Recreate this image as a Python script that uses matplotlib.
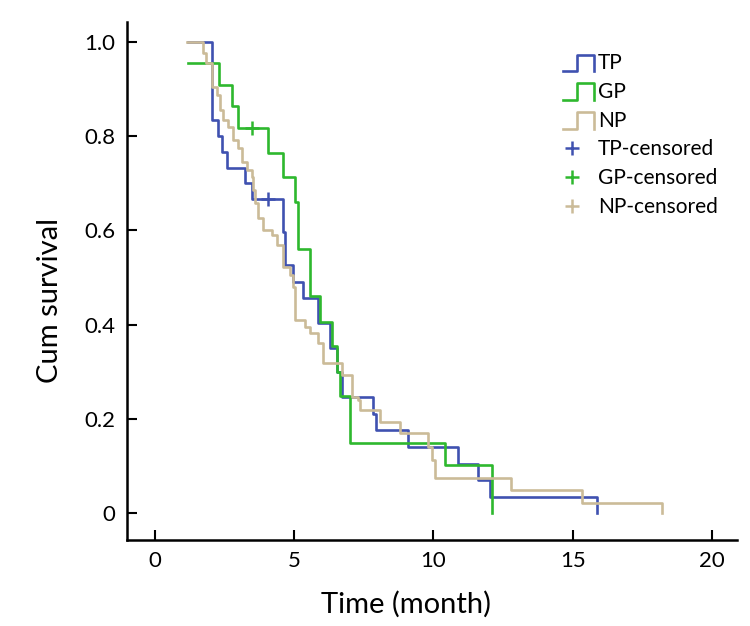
import matplotlib
matplotlib.use("Agg")
import matplotlib.pyplot as plt
from matplotlib.lines import Line2D
from matplotlib.legend_handler import HandlerLine2D

plt.rcParams['font.family'] = ['Lato', 'DejaVu Sans']

# Kaplan-Meier step data (time in months, survival after each step)
tp_t = [1.2, 2.05, 2.26, 2.4, 2.59, 3.23, 3.5, 4.6, 4.67, 4.96, 5.31, 5.85,
        6.28, 6.54, 6.71, 7.83, 7.94, 9.08, 10.88, 11.6, 12.03, 15.87]
tp_s = [1.0, 0.833, 0.80, 0.767, 0.733, 0.70, 0.667, 0.596, 0.526, 0.491,
        0.456, 0.404, 0.351, 0.30, 0.246, 0.211, 0.176, 0.140, 0.105, 0.070,
        0.035, 0.0]
tp_cens_t = [4.06]
tp_cens_s = [0.667]

gp_t = [1.2, 2.3, 2.76, 3.0, 4.05, 4.6, 5.05, 5.13, 5.57, 5.93, 6.35, 6.55,
        6.65, 7.0, 10.4, 12.1]
gp_s = [0.955, 0.909, 0.864, 0.818, 0.765, 0.713, 0.66, 0.56, 0.46, 0.405,
        0.354, 0.30, 0.248, 0.149, 0.102, 0.0]
gp_cens_t = [3.5]
gp_cens_s = [0.818]

np_t = [1.15, 1.72, 1.83, 2.05, 2.23, 2.33, 2.44, 2.62, 2.8, 2.98, 3.12, 3.3,
        3.48, 3.52, 3.59, 3.7, 3.88, 4.2, 4.38, 4.6, 4.85, 4.96, 5.03, 5.39,
        5.57, 5.85, 6.03, 6.71, 7.07, 7.29, 7.36, 8.08, 8.8, 9.8, 9.95, 10.05,
        12.8, 15.33, 18.2]
np_s = [1.0, 0.977, 0.955, 0.905, 0.887, 0.856, 0.834, 0.82, 0.792, 0.775,
        0.745, 0.728, 0.713, 0.686, 0.658, 0.626, 0.60, 0.59, 0.569, 0.522,
        0.505, 0.48, 0.41, 0.395, 0.382, 0.361, 0.318, 0.293, 0.246, 0.24,
        0.219, 0.193, 0.17, 0.14, 0.113, 0.074, 0.049, 0.021, 0.0]
np_cens_t = []
np_cens_s = []

c_tp = '#3f51b0'
c_gp = '#2eb82e'
c_np = '#cbbb98'


class StepHandler(HandlerLine2D):
    # legend key drawn as a small step: low, up, across, down
    def create_artists(self, legend, orig_handle, xdescent, ydescent,
                       width, height, fontsize, trans):
        x0 = -xdescent
        y0 = -ydescent - height * 0.15
        h = height * 1.15
        xs = [x0, x0 + width * 0.45, x0 + width * 0.45, x0 + width, x0 + width]
        ys = [y0, y0, y0 + h, y0 + h, y0]
        ln = Line2D(xs, ys, color=orig_handle.get_color(),
                    lw=orig_handle.get_linewidth())
        ln.set_transform(trans)
        return [ln]


class CrossHandler(HandlerLine2D):
    def create_artists(self, legend, orig_handle, xdescent, ydescent,
                       width, height, fontsize, trans):
        x = -xdescent + width * 0.3
        y = -ydescent + height * 0.5
        mk = Line2D([x], [y], marker='+', ls='none',
                    color=orig_handle.get_color(),
                    ms=orig_handle.get_markersize(),
                    mew=orig_handle.get_markeredgewidth())
        mk.set_transform(trans)
        return [mk]


fig = plt.figure(figsize=(7.5, 6.26), dpi=100)
ax = fig.add_axes([0.169, 0.137, 0.814, 0.828])

l1, = ax.step(tp_t, tp_s, where='post', color=c_tp, lw=1.9)
l2, = ax.step(gp_t, gp_s, where='post', color=c_gp, lw=1.9)
l3, = ax.step(np_t, np_s, where='post', color=c_np, lw=1.9)
m1, = ax.plot(tp_cens_t, tp_cens_s, '+', color=c_tp, ms=10, mew=1.8, ls='none')
m2, = ax.plot(gp_cens_t, gp_cens_s, '+', color=c_gp, ms=10, mew=1.8, ls='none')
m3, = ax.plot(np_cens_t, np_cens_s, '+', color=c_np, ms=10, mew=1.8, ls='none')

ax.set_xlim(-1.0, 20.9)
ax.set_ylim(-0.057, 1.042)
ax.set_xticks([0, 5, 10, 15, 20])
ax.set_yticks([0, 0.2, 0.4, 0.6, 0.8, 1.0])
ax.set_yticklabels(['0', '0.2', '0.4', '0.6', '0.8', '1.0'])
ax.tick_params(direction='in', length=7, width=1.5, labelsize=16, pad=8)
for s in ['top', 'right']:
    ax.spines[s].set_visible(False)
for s in ['left', 'bottom']:
    ax.spines[s].set_linewidth(1.8)

ax.set_xlabel('Time (month)', fontsize=21)
ax.set_ylabel('Cum survival', fontsize=21)
ax.xaxis.set_label_coords(0.457, -0.098)
ax.yaxis.set_label_coords(-0.105, 0.463)

hm = {l1: StepHandler(), l2: StepHandler(), l3: StepHandler(),
      m1: CrossHandler(), m2: CrossHandler(), m3: CrossHandler()}
leg = fig.legend([l1, l2, l3, m1, m2, m3],
                 ['TP', 'GP', 'NP', 'TP-censored', 'GP-censored', 'NP-censored'],
                 handler_map=hm,
                 loc='upper left', bbox_to_anchor=(0.725, 0.945),
                 frameon=False, fontsize=15, handlelength=1.5,
                 handletextpad=0.2, labelspacing=0.42)

fig.savefig('out.png', dpi=100)
